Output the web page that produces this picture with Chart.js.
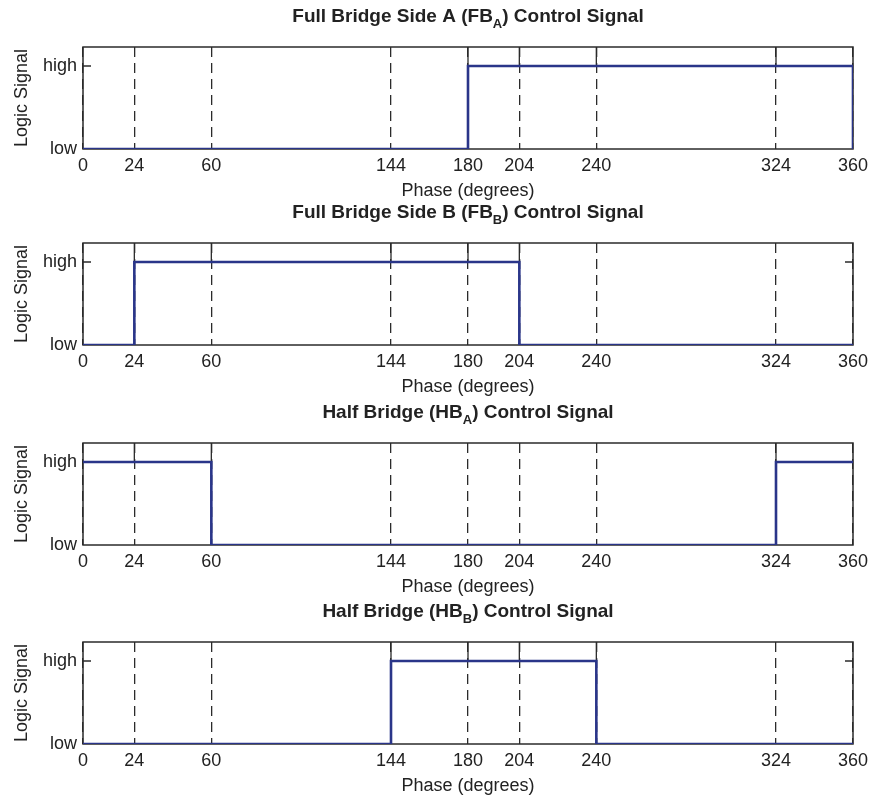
<!DOCTYPE html>
<html lang="en">
<head>
<meta charset="UTF-8">
<title>Bridge Control Signals</title>
<script src="https://cdn.jsdelivr.net/npm/chart.js@4.4.0/dist/chart.umd.min.js"></script>
<style>
  body { margin: 0; background: #fff; }
  .wrap { position: relative; width: 869px; height: 802px; }
  .plot { position: absolute; left: 0; width: 869px; height: 200px; }
</style>
</head>
<body>
<div class="wrap">
  <div class="plot" style="top:0px"><canvas id="c0" width="869" height="200"></canvas></div>
  <div class="plot" style="top:196px"><canvas id="c1" width="869" height="200"></canvas></div>
  <div class="plot" style="top:396px"><canvas id="c2" width="869" height="200"></canvas></div>
  <div class="plot" style="top:595px"><canvas id="c3" width="869" height="200"></canvas></div>
</div>
<script>
var phaseTicks = [0, 24, 60, 144, 180, 204, 240, 324, 360];
var levelLabels = ['low', 'high'];

// switching edges: at each phase the signal jumps to the given level
var fbAPhase = [0, 180, 360];
var fbALevel = [0, 1, 0];
var fbBPhase = [0, 24, 204, 360];
var fbBLevel = [0, 1, 0, 0];
var hbAPhase = [0, 60, 324, 360];
var hbALevel = [1, 0, 1, 1];
var hbBPhase = [0, 144, 240, 360];
var hbBLevel = [0, 1, 0, 0];

var titleMain = ['Full Bridge Side A (FB', 'Full Bridge Side B (FB', 'Half Bridge (HB', 'Half Bridge (HB'];
var titleSub = ['A', 'B', 'A', 'B'];
var titleEnd = ') Control Signal';

var FONT = '"Liberation Sans", Arial, sans-serif';
var INK = '#222';
var LINE = '#2a3589';

function levelAt(points, v) {
    var lvl = points[0].y;
    for (var i = 0; i < points.length; i++) {
        if (points[i].x <= v) lvl = points[i].y;
    }
    return lvl;
}

// box round the plot, "high" tick marks, solid marker part where signal is high
var framePlugin = {
    id: 'frame',
    beforeDatasetsDraw: function(chart) {
        var ctx = chart.ctx, a = chart.chartArea;
        var xs = chart.scales.x, ys = chart.scales.y;
        var yHigh = ys.getPixelForValue(1);
        var pts = chart.data.datasets[0].data;
        ctx.save();
        ctx.strokeStyle = '#2b2b2b';
        ctx.lineWidth = 1.5;
        ctx.strokeRect(a.left, a.top, a.right - a.left, a.bottom - a.top);
        ctx.beginPath();
        ctx.moveTo(a.left, yHigh); ctx.lineTo(a.left + 8, yHigh);
        ctx.moveTo(a.right, yHigh); ctx.lineTo(a.right - 8, yHigh);
        ctx.stroke();
        ctx.lineWidth = 1.3;
        ctx.beginPath();
        phaseTicks.forEach(function(v) {
            if (v == 0 || v == 360) return;
            if (levelAt(pts, v - 0.5) == 1 || levelAt(pts, v + 0.5) == 1) {
                var px = xs.getPixelForValue(v);
                ctx.moveTo(px, a.top);
                ctx.lineTo(px, yHigh);
            }
        });
        ctx.stroke();
        ctx.restore();
    }
};

// title with a subscript
var titlePlugin = {
    id: 'subTitle',
    afterDraw: function(chart, args, opts) {
        var ctx = chart.ctx, a = chart.chartArea;
        var big = 'bold 19px ' + FONT;
        var small = 'bold 13px ' + FONT;
        ctx.save();
        ctx.font = big;
        var w1 = ctx.measureText(opts.main).width;
        var w3 = ctx.measureText(titleEnd).width;
        ctx.font = small;
        var w2 = ctx.measureText(opts.sub).width;
        var x0 = (a.left + a.right) / 2 - (w1 + w2 + w3) / 2;
        ctx.textBaseline = 'middle';
        ctx.fillStyle = INK;
        ctx.font = big;
        ctx.fillText(opts.main, x0, 17);
        ctx.font = small;
        ctx.fillText(opts.sub, x0 + w1, 24);
        ctx.font = big;
        ctx.fillText(titleEnd, x0 + w1 + w2, 17);
        ctx.restore();
    }
};

function makeChart(k, phase, level) {
    var points = phase.map(function(p, i) { return {x: p, y: level[i]}; });
    return new Chart(document.getElementById('c' + k), {
        type: 'line',
        data: {
            datasets: [{
                data: points,
                stepped: true,
                borderColor: LINE,
                borderWidth: 2.6,
                pointRadius: 0,
                fill: false
            }]
        },
        options: {
            responsive: false,
            animation: false,
            layout: { padding: { top: 47, right: 16, left: 0, bottom: 0 } },
            plugins: {
                legend: { display: false },
                tooltip: { enabled: false },
                subTitle: { main: titleMain[k], sub: titleSub[k] }
            },
            scales: {
                x: {
                    type: 'linear',
                    min: 0,
                    max: 360,
                    afterBuildTicks: function(s) {
                        s.ticks = phaseTicks.map(function(v) { return {value: v}; });
                    },
                    afterFit: function(s) {
                        s.height = 51;
                        s.paddingRight = 0;
                        s.paddingLeft = 0;
                    },
                    ticks: { autoSkip: false, maxRotation: 0, padding: 6, color: INK, font: { size: 18, family: FONT } },
                    grid: { color: '#2b2b2b', lineWidth: 1.3, drawTicks: false },
                    border: { display: false, dash: [10, 6] },
                    title: { display: true, text: 'Phase (degrees)', color: INK, font: { size: 18, family: FONT }, padding: { top: 0, bottom: -2 } }
                },
                y: {
                    min: 0,
                    max: 1.23,
                    afterBuildTicks: function(s) {
                        s.ticks = [{value: 0}, {value: 1}];
                    },
                    afterFit: function(s) { s.width = 83; },
                    ticks: {
                        padding: 6,
                        color: INK,
                        font: { size: 18, family: FONT },
                        callback: function(v) { return levelLabels[v]; }
                    },
                    grid: { display: false, drawTicks: false },
                    border: { display: false },
                    title: { display: true, text: 'Logic Signal', color: INK, font: { size: 18, family: FONT }, padding: { top: 11, bottom: 0 } }
                }
            }
        },
        plugins: [framePlugin, titlePlugin]
    });
}

makeChart(0, fbAPhase, fbALevel);
makeChart(1, fbBPhase, fbBLevel);
makeChart(2, hbAPhase, hbALevel);
makeChart(3, hbBPhase, hbBLevel);
</script>
</body>
</html>
